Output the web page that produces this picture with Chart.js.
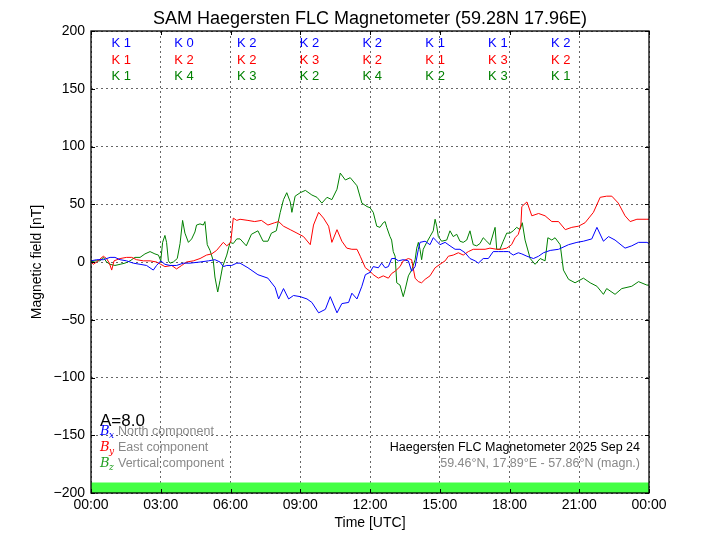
<!DOCTYPE html>
<html>
<head>
<meta charset="utf-8">
<script src="https://cdn.jsdelivr.net/npm/chart.js@4.4.1/dist/chart.umd.min.js"></script>
<style>
  html, body { margin: 0; padding: 0; background: #fff; }
</style>
</head>
<body>
<canvas id="mag-chart" width="720" height="540"></canvas>
<script>
// values, hours UTC and nT
const bxHours = [0,0.24,0.53,0.82,1.03,1.25,1.53,1.82,2.11,2.39,2.68,2.82,3.0,3.18,3.4,3.68,3.97,4.26,4.69,5.05,5.33,5.55,5.69,5.84,6.05,6.27,6.41,6.75,7.18,7.61,7.92,8.07,8.28,8.5,8.71,9.0,9.29,9.5,9.79,10.08,10.29,10.58,10.79,11.08,11.22,11.44,11.65,11.8,12.0,12.14,12.36,12.5,12.65,12.79,12.93,13.08,13.22,13.43,13.65,13.79,13.94,14.08,14.15,14.37,14.58,14.72,14.87,15.01,15.23,15.44,15.66,15.87,16.09,16.3,16.52,16.66,16.87,17.09,17.3,17.52,17.73,17.95,18.16,18.38,18.53,18.75,19.03,19.25,19.46,19.75,20.11,20.54,20.9,21.18,21.54,21.76,22.04,22.26,22.54,22.97,23.26,23.55,23.91,24];
const bxValues = [1,2,2,4,4,2,1,-1,-2,-3,-7,-3,1,-2,-3,-3,-1,-1,0,1,2,0,-4,-3,-3,-1,-1,-5,-11,-14,-22,-32,-23,-32,-29,-30,-32,-35,-44,-41,-30,-44,-36,-35,-27,-32,-21,-11,-9,-4,-5,-1,-5,-4,3,3,1,2,1,-8,-4,11,17,18,15,21,18,15,17,14,11,11,8,3,1,-1,3,3,9,9,9,9,6,8,7,5,3,5,8,10,11,15,17,18,20,30,18,22,19,12,14,17,17,16];

const byHours = [0,0.1,0.24,0.53,0.67,0.79,0.89,0.99,1.25,1.53,1.75,1.96,2.25,2.54,2.82,3.0,3.18,3.47,3.68,3.9,4.11,4.4,4.69,4.97,5.19,5.4,5.69,5.84,6.01,6.12,6.27,6.41,6.75,7.04,7.33,7.61,7.9,8.07,8.28,8.57,8.86,9.14,9.43,9.57,9.79,10.0,10.22,10.36,10.58,10.79,11.0,11.22,11.44,11.58,11.8,12.0,12.14,12.36,12.57,12.79,12.93,13.08,13.29,13.43,13.65,13.79,13.94,14.08,14.22,14.37,14.58,14.8,15.01,15.23,15.37,15.58,15.8,16.01,16.23,16.44,16.73,16.95,17.16,17.45,17.66,17.88,18.09,18.24,18.38,18.49,18.53,18.75,18.96,19.25,19.53,19.82,20.11,20.4,20.68,20.97,21.25,21.61,21.9,22.18,22.4,22.68,22.97,23.19,23.48,23.91,24];
const byValues = [0,-2,0,5,3,-1,-7,1,3,4,4,2,1,1,0,-2,-4,-3,-6,-3,0,1,3,6,7,10,17,14,17,38,36,37,36,35,36,32,34,35,31,28,25,22,15,32,43,38,31,17,28,18,12,11,11,5,-5,-8,-11,-14,-12,-14,-10,-8,-4,1,3,2,-14,-17,-18,-15,-12,-5,-2,1,5,6,8,6,9,11,11,11,12,11,11,12,15,21,24,32,48,52,40,42,40,35,35,28,30,31,34,43,56,57,57,51,40,35,37,37,37];

const bzHours = [0,0.17,0.39,0.53,0.67,0.82,1.03,1.25,1.46,1.68,1.89,2.11,2.32,2.54,2.75,2.9,3.0,3.08,3.18,3.25,3.33,3.4,3.54,3.71,3.83,3.94,4.04,4.19,4.33,4.47,4.54,4.69,4.83,4.9,5.0,5.12,5.26,5.33,5.45,5.55,5.66,5.84,5.98,6.12,6.27,6.41,
  6.68,6.9,7.18,7.4,7.61,7.76,7.97,8.14,8.28,8.42,8.57,8.64,8.78,9.0,9.22,9.5,9.72,9.93,10.15,10.36,10.58,10.72,10.94,11.15,11.44,11.65,11.87,
  12.0,12.14,12.29,12.43,12.57,12.65,12.72,12.86,12.93,13.0,13.08,13.15,13.29,13.43,13.51,13.65,13.79,13.94,14.01,14.08,14.15,14.22,14.29,14.44,14.58,14.72,14.8,14.87,14.94,15.08,15.3,15.44,15.58,15.73,15.87,16.01,16.16,16.3,16.44,16.59,16.73,16.87,17.02,17.16,17.38,17.45,17.59,17.73,17.88,18.02,18.16,18.31,18.45,
  18.55,18.67,18.89,19.1,19.32,19.53,19.65,19.82,19.96,20.18,20.32,20.54,20.82,21.18,21.47,21.76,22.04,22.18,22.54,22.83,23.26,23.55,23.91,24];
const bzValues = [0,1,1,4,0,-2,-3,-2,-1,1,4,4,7,9,7,6,1,17,23,17,1,-1,0,3,16,36,25,17,20,26,32,33,32,35,15,10,1,-13,-26,-16,-4,6,17,16,20,20,
  14,24,27,18,18,25,27,43,54,60,52,43,57,60,62,58,56,51,56,54,63,77,71,73,66,51,48,
  47,43,31,30,34,35,30,22,19,9,5,-18,-20,-30,-24,-12,-7,2,12,17,11,2,11,17,22,27,37,31,22,18,19,27,22,24,18,17,19,27,15,14,16,21,18,15,30,11,11,18,25,25,27,30,28,
  34,19,3,-2,3,1,21,19,21,15,-7,-15,-18,-14,-18,-21,-28,-23,-28,-23,-21,-17,-20,-20];

// K index per 3 hour block
const kX = [1, 0, 2, 2, 2, 1, 1, 2];
const kY = [1, 2, 2, 3, 2, 1, 3, 2];
const kZ = [1, 4, 3, 2, 4, 2, 3, 1];
const aIndex = 8.0;

// activity bar along the bottom
const barHours = [0, 24];
const barTop = [-191, -191];

const xTicks = [0, 3, 6, 9, 12, 15, 18, 21, 24];
const yTicks = [-200, -150, -100, -50, 0, 50, 100, 150, 200];

const FONT = '"Liberation Sans", Arial, Helvetica, sans-serif';
const BLUE = '#0000ff', RED = '#ff0000', GREEN = '#008000';

const toPoints = (hours, vals) => hours.map((h, i) => ({ x: h, y: vals[i] }));

const overlay = {
  id: 'overlay',
  afterDraw(chart) {
    const { ctx, chartArea: a, scales: { x, y } } = chart;
    ctx.save();

    // inward tick marks and frame
    ctx.strokeStyle = '#000';
    ctx.lineWidth = 1;
    ctx.beginPath();
    xTicks.forEach(t => {
      const px = Math.round(x.getPixelForValue(t)) + 0.5;
      ctx.moveTo(px, a.bottom); ctx.lineTo(px, a.bottom - 4);
      ctx.moveTo(px, a.top); ctx.lineTo(px, a.top + 4);
    });
    yTicks.forEach(t => {
      const py = Math.round(y.getPixelForValue(t)) + 0.5;
      ctx.moveTo(a.left, py); ctx.lineTo(a.left + 4, py);
      ctx.moveTo(a.right, py); ctx.lineTo(a.right - 4, py);
    });
    ctx.stroke();
    ctx.lineWidth = 1.3;
    ctx.strokeRect(a.left, a.top, a.right - a.left, a.bottom - a.top);

    // title
    ctx.fillStyle = '#000';
    ctx.textAlign = 'center';
    ctx.textBaseline = 'middle';
    ctx.font = '18px ' + FONT;
    ctx.fillText('SAM Haegersten FLC Magnetometer (59.28N 17.96E)', (a.left + a.right) / 2, 19);

    // K indices
    ctx.font = '13px ' + FONT;
    const rows = [[kX, BLUE, 189], [kY, RED, 174.5], [kZ, GREEN, 160.5]];
    rows.forEach(([ks, col, yv]) => {
      ctx.fillStyle = col;
      ks.forEach((k, i) => {
        ctx.fillText('K ' + k, x.getPixelForValue(1.3 + 2.7 * i), y.getPixelForValue(yv));
      });
    });

    // A index
    ctx.textAlign = 'left';
    ctx.fillStyle = '#000';
    ctx.font = '17px ' + FONT;
    ctx.fillText('A=' + aIndex.toFixed(1), a.left + 9, a.bottom - 72);

    // component legend
    const legend = [['x', BLUE, 'North component'], ['y', RED, 'East component'], ['z', '#22a022', 'Vertical component']];
    legend.forEach(([sub, col, label], i) => {
      const py = a.bottom - 61 + i * 15.7;
      ctx.fillStyle = col;
      ctx.font = 'italic 13px "DejaVu Serif", serif';
      ctx.fillText('B', a.left + 9, py);
      ctx.font = 'italic 9px "DejaVu Serif", serif';
      ctx.fillText(sub, a.left + 18, py + 4);
      ctx.fillStyle = '#888888';
      ctx.font = '12.5px ' + FONT;
      ctx.fillText(label, a.left + 27, py);
    });

    // station text
    ctx.textAlign = 'right';
    ctx.fillStyle = '#000';
    ctx.fillText('Haegersten FLC Magnetometer 2025 Sep 24', a.right - 9, a.bottom - 45);
    ctx.fillStyle = '#888888';
    ctx.fillText('59.46\u00b0N, 17.89\u00b0E - 57.86\u00b0N (magn.)', a.right - 9, a.bottom - 29.5);

    ctx.restore();
  }
};

const pad2 = v => (v < 10 ? '0' : '') + v;

new Chart('mag-chart', {
  type: 'line',
  data: {
    datasets: [
      {
        label: 'bar',
        data: toPoints(barHours, barTop),
        borderWidth: 0,
        backgroundColor: '#44ff44',
        fill: 'start',
        pointRadius: 0,
        order: 4
      },
      {
        label: 'Bz',
        data: toPoints(bzHours, bzValues),
        borderColor: GREEN,
        borderWidth: 1,
        pointRadius: 0,
        fill: false,
        order: 3
      },
      {
        label: 'By',
        data: toPoints(byHours, byValues),
        borderColor: RED,
        borderWidth: 1,
        pointRadius: 0,
        fill: false,
        order: 2
      },
      {
        label: 'Bx',
        data: toPoints(bxHours, bxValues),
        borderColor: BLUE,
        borderWidth: 1,
        pointRadius: 0,
        fill: false,
        order: 1
      }
    ]
  },
  options: {
    responsive: false,
    animation: false,
    devicePixelRatio: 1,
    layout: { padding: { left: 0, right: 71, top: 31, bottom: 0 } },
    plugins: {
      legend: { display: false },
      title: { display: false },
      tooltip: { enabled: false }
    },
    scales: {
      x: {
        type: 'linear',
        min: 0,
        max: 24,
        afterBuildTicks: s => { s.ticks = xTicks.map(v => ({ value: v })); },
        afterFit: s => { s.height = 47; },
        ticks: {
          color: '#000',
          font: { family: FONT, size: 14 },
          padding: 4,
          maxRotation: 0,
          callback: v => pad2(v % 24) + ':00'
        },
        grid: { color: 'rgba(0,0,0,0.6)', drawTicks: false },
        border: { display: false, dash: [2, 3] },
        title: {
          display: true,
          text: 'Time [UTC]',
          color: '#000',
          font: { family: FONT, size: 14 },
          padding: { top: 0, bottom: 8.6 }
        }
      },
      y: {
        min: -200,
        max: 200,
        afterBuildTicks: s => { s.ticks = yTicks.map(v => ({ value: v })); },
        afterFit: s => { s.width = 91; },
        ticks: {
          color: '#000',
          font: { family: FONT, size: 14 },
          padding: 6,
          callback: v => (v < 0 ? '\u2212' + Math.abs(v) : '' + v)
        },
        grid: { color: 'rgba(0,0,0,0.6)', drawTicks: false },
        border: { display: false, dash: [2, 3] },
        title: {
          display: true,
          text: 'Magnetic field [nT]',
          color: '#000',
          font: { family: FONT, size: 14 },
          padding: { top: 28.6, bottom: 0 }
        }
      }
    }
  },
  plugins: [overlay]
});
</script>
</body>
</html>
